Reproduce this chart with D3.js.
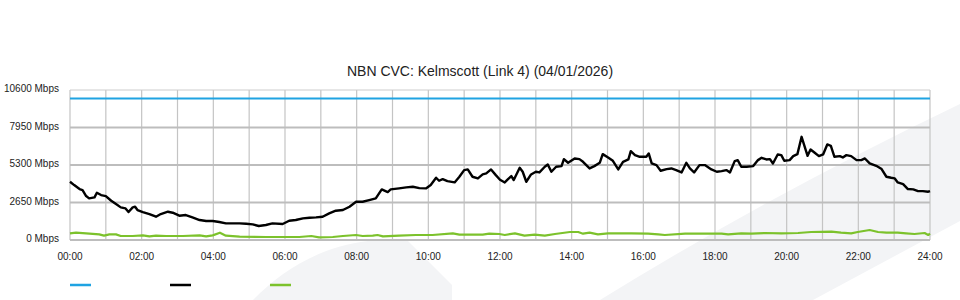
<!DOCTYPE html>
<html>
<head>
<meta charset="utf-8">
<script src="https://cdn.jsdelivr.net/npm/d3@7.9.0/dist/d3.min.js"></script>
<style>
  body { margin: 0; background: #fff; }
  svg { display: block; font-family: "Liberation Sans", Arial, sans-serif; }
</style>
</head>
<body>
<div id="chart"></div>
<script>
const title = "NBN CVC: Kelmscott (Link 4) (04/01/2026)";
const yTicks = [0, 2650, 5300, 7950, 10600];
const xLabels = ["00:00","02:00","04:00","06:00","08:00","10:00","12:00","14:00","16:00","18:00","20:00","22:00","24:00"];

// capacity (blue), minutes of day
const capTimes = [0, 1440];
const capMbps = [10000, 10000];

// used bandwidth (black)
const usedTimes = [0,7,16,21,27,32,41,45,52,60,69,77,85,93,98,105,109,113,122,133,144,152,164,172,183,194,205,217,228,239,250,261,272,284,295,306,316,328,339,356,367,378,390,401,412,423,434,445,457,468,479,490,501,512,522,532,537,551,563,574,585,596,604,613,618,624,632,644,652,660,666,674,683,691,697,705,713,720,
  728,733,739,743,753,758,764,772,780,786,795,800,806,814,823,827,834,845,853,859,870,878,887,892,901,909,918,926,935,939,946,954,965,969,974,982,989,999,1007,1015,1024,1032,1038,1045,1054,1063,1074,1083,1091,1099,1105,1113,1118,1124,1133,1144,1152,1158,1166,1172,1177,1185,1191,1196,1205,1211,1218,1225,1235,1240,1247,1254,1261,1268,1274,1280,1289,1294,1300,1308,1317,1325,1331,1339,1350,1359,1367,1375,1381,1386,1395,1403,1412,1420,1428,1437,1440];
const usedMbps = [4116,3881,3599,3528,3105,2940,3011,3340,3175,3105,2775,2540,2305,2234,1976,2305,2352,2117,1976,1835,1646,1835,1999,1929,1717,1764,1599,1411,1341,1341,1270,1176,1176,1176,1152,1105,988,1058,1176,1129,1364,1411,1529,1576,1599,1646,1882,2070,2117,2352,2705,2705,2822,2940,3575,3387,3575,3646,3716,3763,3669,3646,3881,4398,4187,4304,4163,4069,4469,4939,4986,4469,4351,4633,4704,4986,4586,4260,
  4069,4281,4516,4234,5104,4822,4116,4633,4822,4775,5174,5339,4822,5174,5221,5715,5457,5762,5715,5527,5057,5221,5457,6068,5833,5598,4986,5527,5692,6280,5998,5880,5880,6115,5410,5292,4892,5010,5057,4939,4775,5457,5057,4775,5292,5292,4986,4822,4869,4939,4775,5574,5645,5174,5174,5221,5645,5809,5692,5715,5410,6045,5998,5598,5645,5927,6068,7291,5951,6397,6162,5927,6045,6750,6656,5880,5927,5833,5998,5927,5645,5645,5762,5410,5245,5010,4469,4398,4351,4069,3951,3599,3575,3457,3457,3410,3457];

// second series (green)
const lowTimes = [0,10,27,49,57,66,77,85,105,122,133,144,161,189,217,228,239,251,261,284,328,384,404,417,440,457,479,490,507,515,524,551,579,607,641,652,691,702,719,
  728,745,761,778,795,812,837,851,859,870,884,901,940,968,985,996,1030,1074,1091,1102,1124,1141,1163,1191,1219,1241,1275,1291,1308,1319,1339,1353,1367,1386,1400,1414,1431,1437,1440];
const lowMbps = [470,517,470,400,306,400,400,282,282,329,259,306,282,282,329,259,329,517,306,235,212,212,282,188,212,282,353,282,306,353,259,306,353,353,470,376,376,447,423,
  353,470,306,376,306,423,564,564,447,517,400,470,470,447,400,353,447,447,447,400,470,447,494,470,494,564,588,517,470,564,705,564,517,517,470,423,494,353,447];

const seriesColors = ["#1fa3e2", "#000000", "#7cc22c"];

const width = 960, height = 300;
const margin = {top: 90, right: 30, bottom: 60, left: 70};

const svg = d3.select("#chart").append("svg")
  .attr("width", width)
  .attr("height", height);

// background watermark
svg.append("path")
  .attr("d", "M253,300 C280,272 320,246 368,241 C392,239 402,239 408,241 L452,285 L452,300 Z")
  .attr("fill", "#f3f4f6");
svg.append("path")
  .attr("d", "M600,300 Q770,195 960,104 L960,221 L813,300 Z")
  .attr("fill", "#f3f4f6");

const x = d3.scaleLinear()
  .domain([0, 1440])
  .range([margin.left, width - margin.right]);

const y = d3.scaleLinear()
  .domain([0, 10600])
  .range([height - margin.bottom, margin.top]);

// hourly vertical grid
svg.append("g")
  .selectAll("line")
  .data(d3.range(0, 1441, 60))
  .join("line")
  .attr("x1", d => x(d))
  .attr("x2", d => x(d))
  .attr("y1", y(10600))
  .attr("y2", y(0))
  .attr("stroke", "#c4c4c4")
  .attr("stroke-width", 1.2);

// horizontal grid
svg.append("g")
  .selectAll("line")
  .data(yTicks)
  .join("line")
  .attr("x1", x(0))
  .attr("x2", x(1440))
  .attr("y1", d => y(d))
  .attr("y2", d => y(d))
  .attr("stroke", d => d === 10600 ? "#cccccc" : "#bdbdbd")
  .attr("stroke-width", d => d === 10600 ? 1 : 2);

// y labels
svg.append("g")
  .selectAll("text")
  .data(yTicks)
  .join("text")
  .attr("x", margin.left - 11)
  .attr("y", d => y(d) + 2)
  .attr("text-anchor", "end")
  .attr("font-size", 10)
  .attr("fill", "#222")
  .text(d => d + " Mbps");

// x labels
svg.append("g")
  .selectAll("text")
  .data(xLabels)
  .join("text")
  .attr("x", (d, i) => x(i * 120))
  .attr("y", y(0) + 20)
  .attr("text-anchor", "middle")
  .attr("font-size", 10)
  .attr("fill", "#222")
  .text(d => d);

const line = d3.line()
  .x(d => x(d[0]))
  .y(d => y(d[1]));

const series = [
  d3.zip(capTimes, capMbps),
  d3.zip(usedTimes, usedMbps),
  d3.zip(lowTimes, lowMbps)
];

svg.append("g")
  .selectAll("path")
  .data([series[2], series[0], series[1]])
  .join("path")
  .attr("d", line)
  .attr("fill", "none")
  .attr("stroke", (d, i) => [seriesColors[2], seriesColors[0], seriesColors[1]][i])
  .attr("stroke-width", (d, i) => i === 2 ? 2.4 : 2.2)
  .attr("stroke-linejoin", "round");

// title
svg.append("text")
  .attr("x", width / 2)
  .attr("y", 76)
  .attr("text-anchor", "middle")
  .attr("font-size", 14)
  .attr("fill", "#222")
  .text(title);

// legend (swatches only)
svg.append("g")
  .selectAll("line")
  .data(seriesColors)
  .join("line")
  .attr("x1", (d, i) => 70 + i * 100)
  .attr("x2", (d, i) => 91 + i * 100)
  .attr("y1", 285)
  .attr("y2", 285)
  .attr("stroke", d => d)
  .attr("stroke-width", 2.5);
</script>
</body>
</html>
